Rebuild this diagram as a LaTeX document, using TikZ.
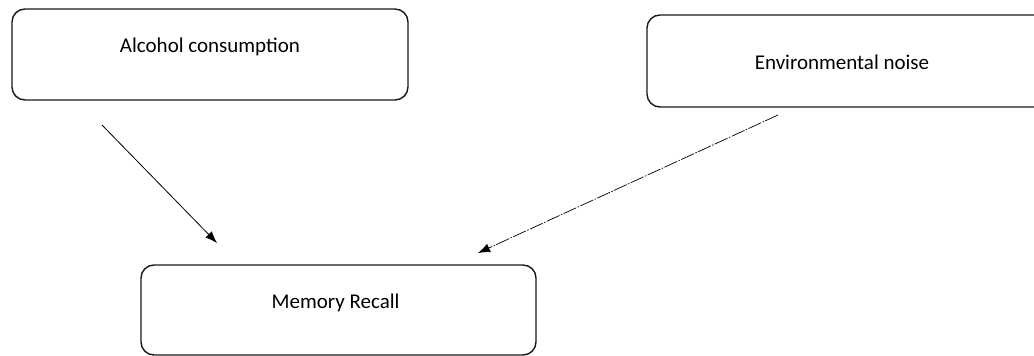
\documentclass[tikz,border=0pt]{standalone}
\usepackage{fontspec}
\setmainfont{Carlito}
\usetikzlibrary{arrows.meta}
\begin{document}
\begin{tikzpicture}[x=1pt,y=-1pt,
  box/.style={draw=black!90, line width=1.4pt, rounded corners=13pt, inner sep=0pt},
  lbl/.style={font=\fontsize{21}{25}\selectfont},
  link/.style={line width=0.8pt, -{Latex[length=12pt,width=9pt]}}]
\useasboundingbox (0,0) rectangle (1034,356);
\node[box, minimum width=396pt, minimum height=91pt,
  label={[lbl,yshift=7.5pt]center:Alcohol consumption}] (alc) at (210,54.5) {};
\node[box, minimum width=400pt, minimum height=92pt,
  label={[lbl,xshift=-5pt,yshift=-1pt]center:Environmental noise}] (env) at (847,61) {};
\node[box, minimum width=395pt, minimum height=90pt,
  label={[lbl,xshift=-3pt,yshift=7pt]center:Memory Recall}] (mem) at (338.5,310) {};
\coordinate (a1) at (102,125);
\coordinate (a2) at (217,243);
\coordinate (e1) at (778,115);
\coordinate (e2) at (478,253);
\draw[link] (a1) -- (a2);
\draw[link, line width=0.7pt, dash pattern=on 14pt off 1.5pt on 1.5pt off 1.5pt] (e1) -- (e2);
\end{tikzpicture}
\end{document}
